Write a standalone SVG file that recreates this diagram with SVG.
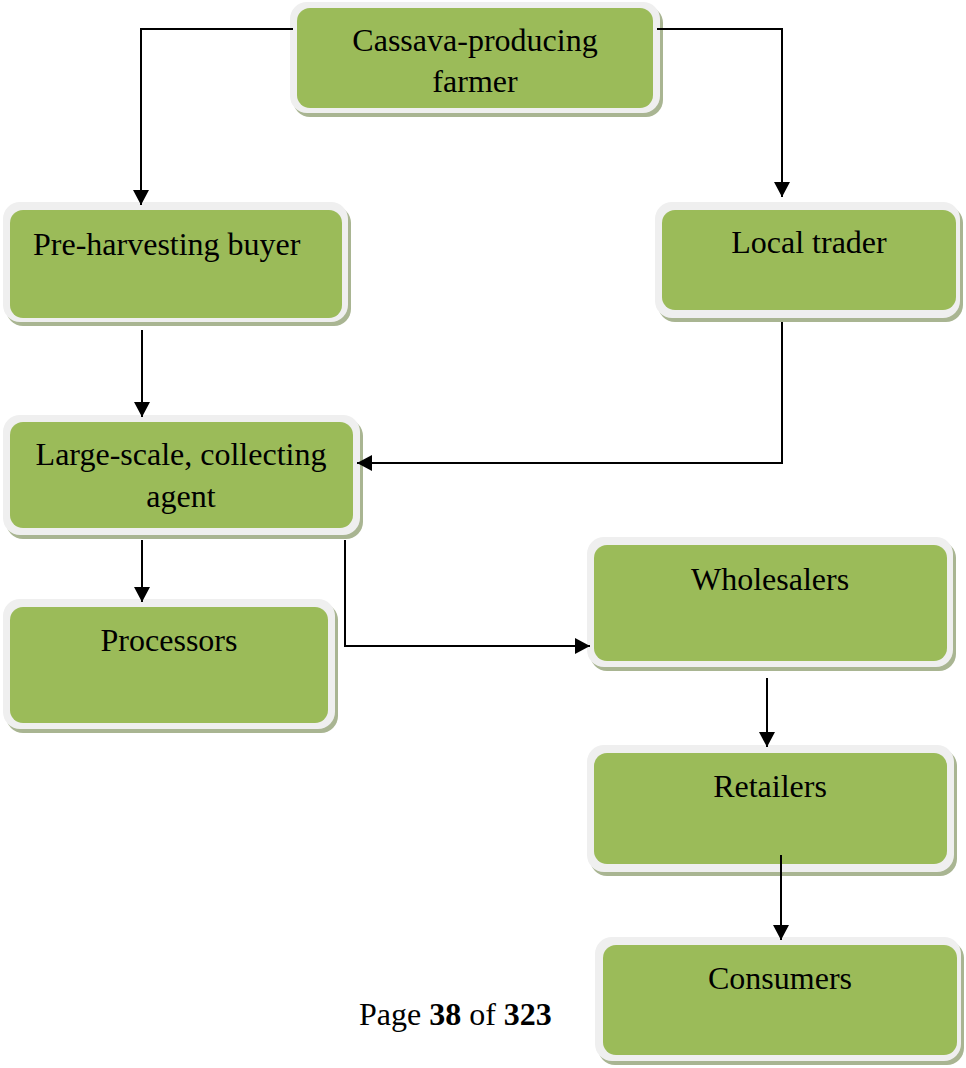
<svg xmlns="http://www.w3.org/2000/svg" width="966" height="1068" viewBox="0 0 966 1068">
<defs>
<style>
.sh{fill:#a9b592}
.out{fill:#efefef}
.in{fill:#9bbb59}
.t{font-family:"Liberation Serif","Times New Roman",serif;font-size:32px;fill:#000}
.c{text-anchor:middle}
.ln{fill:none;stroke:#000;stroke-width:2}
</style>
<marker id="ah" markerUnits="userSpaceOnUse" markerWidth="16" markerHeight="16" refX="15" refY="8" orient="auto">
<path d="M0,0 L15,8 L0,16 z" fill="#000"/>
</marker>
</defs>
<rect width="966" height="1068" fill="#fff"/>

<g id="cassava">
<rect class="sh" x="293" y="6" width="370" height="111" rx="17"/>
<rect class="out" x="290" y="2" width="370" height="111" rx="17"/>
<rect class="in" x="297" y="8" width="356" height="100" rx="13"/>
<text class="t c" x="475" y="51">Cassava-producing</text>
<text class="t c" x="475" y="92">farmer</text>
</g>

<g id="preharvest">
<rect class="sh" x="6" y="206" width="345" height="120" rx="17"/>
<rect class="out" x="3" y="202" width="345" height="120" rx="17"/>
<rect class="in" x="10" y="210" width="332" height="108" rx="13"/>
<text class="t" x="33" y="255">Pre-harvesting buyer</text>
</g>

<g id="localtrader">
<rect class="sh" x="658" y="206" width="305" height="116" rx="17"/>
<rect class="out" x="655" y="202" width="305" height="116" rx="17"/>
<rect class="in" x="662" y="210" width="294" height="100" rx="13"/>
<text class="t c" x="809" y="253">Local trader</text>
</g>

<g id="largescale">
<rect class="sh" x="6" y="419" width="357" height="120" rx="17"/>
<rect class="out" x="3" y="415" width="357" height="120" rx="17"/>
<rect class="in" x="10" y="422" width="343" height="106" rx="13"/>
<text class="t c" x="181" y="465">Large-scale, collecting</text>
<text class="t c" x="181" y="507">agent</text>
</g>

<g id="processors">
<rect class="sh" x="6" y="603" width="332" height="130" rx="17"/>
<rect class="out" x="3" y="599" width="332" height="130" rx="17"/>
<rect class="in" x="10" y="607" width="318" height="116" rx="13"/>
<text class="t c" x="169" y="651">Processors</text>
</g>

<g id="wholesalers">
<rect class="sh" x="590" y="541" width="366" height="130" rx="17"/>
<rect class="out" x="587" y="537" width="366" height="130" rx="17"/>
<rect class="in" x="594" y="545" width="353" height="116" rx="13"/>
<text class="t c" x="770" y="590">Wholesalers</text>
</g>

<g id="retailers">
<rect class="sh" x="590" y="749" width="367" height="127" rx="17"/>
<rect class="out" x="587" y="745" width="367" height="127" rx="17"/>
<rect class="in" x="594" y="753" width="353" height="111" rx="13"/>
<text class="t c" x="770" y="797">Retailers</text>
</g>

<g id="consumers">
<rect class="sh" x="598" y="941" width="366" height="124" rx="17"/>
<rect class="out" x="595" y="937" width="366" height="124" rx="17"/>
<rect class="in" x="603" y="945" width="354" height="110" rx="13"/>
<text class="t c" x="780" y="989">Consumers</text>
</g>

<g id="connectors">
<path class="ln" d="M293,29 H141 V205" marker-end="url(#ah)"/>
<path class="ln" d="M657,29 H782 V197" marker-end="url(#ah)"/>
<path class="ln" d="M142,330 V417" marker-end="url(#ah)"/>
<path class="ln" d="M782,322 V463 H357" marker-end="url(#ah)"/>
<path class="ln" d="M142,540 V602" marker-end="url(#ah)"/>
<path class="ln" d="M345,540 V646 H590" marker-end="url(#ah)"/>
<path class="ln" d="M767,678 V747" marker-end="url(#ah)"/>
<path class="ln" d="M781,855 V940" marker-end="url(#ah)"/>
</g>

<text class="t" x="359" y="1025">Page <tspan font-weight="bold">38</tspan> of <tspan font-weight="bold">323</tspan></text>
</svg>
